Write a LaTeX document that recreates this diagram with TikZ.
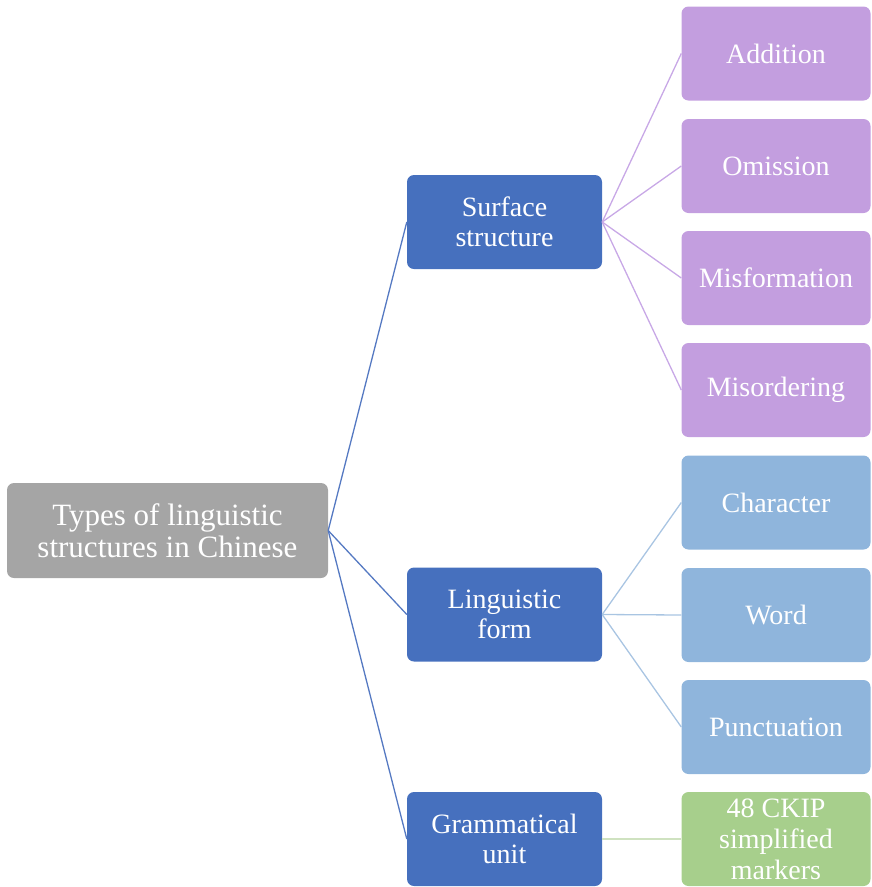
\documentclass[tikz,border=0pt]{standalone}
\usepackage{fontspec}
\setmainfont{Liberation Serif}
\definecolor{rootgray}{HTML}{A5A5A5}
\definecolor{midblue}{HTML}{4670BE}
\definecolor{purp}{HTML}{C39EDF}
\definecolor{lblue}{HTML}{8FB5DC}
\definecolor{lgreen}{HTML}{A7CF8C}
\definecolor{linepurp}{HTML}{C8A8E6}
\definecolor{lineblue}{HTML}{A9C5E2}
\definecolor{linegreen}{HTML}{CFE2C0}
\definecolor{lineroot}{HTML}{5579C2}
\begin{document}
\begin{tikzpicture}[x=1pt,y=-1pt,
  box/.style={rectangle, rounded corners=7pt, inner sep=0pt, text=white, align=center},
  rootbox/.style={box, fill=rootgray, minimum width=321pt, minimum height=95pt, font=\fontsize{31}{32}\selectfont},
  midbox/.style={box, fill=midblue, minimum width=195pt, minimum height=94pt, font=\fontsize{28}{30}\selectfont},
  leafbox/.style={box, minimum width=189pt, minimum height=94pt, font=\fontsize{28}{30}\selectfont},
  conn/.style={line width=1.3pt}
]
\useasboundingbox (0,0) rectangle (871,887);
\node[rootbox] (root) at (167.5,530.5) {Types of linguistic\\structures in Chinese};
\node[midbox] (surf) at (504.5,222) {Surface\\structure};
\node[midbox] (form) at (504.5,614.5) {Linguistic\\form};
\node[midbox] (gram) at (504.5,839) {Grammatical\\unit};
\node[leafbox, fill=purp] (add) at (776,53.5) {Addition};
\node[leafbox, fill=purp] (omi) at (776,166) {Omission};
\node[leafbox, fill=purp] (misf) at (776,278) {Misformation};
\node[leafbox, fill=purp] (miso) at (776,390) {Misordering};
\node[leafbox, fill=lblue] (char) at (776,502.5) {Character};
\node[leafbox, fill=lblue] (word) at (776,615) {Word};
\node[leafbox, fill=lblue] (punc) at (776,727) {Punctuation};
\node[leafbox, fill=lgreen, font=\fontsize{28}{31}\selectfont] (ckip) at (776,839) {48 CKIP\\simplified\\markers};
\foreach \m in {surf,form,gram} \draw[conn, lineroot] (root.east) -- (\m.west);
\foreach \l in {add,omi,misf,miso} \draw[conn, linepurp] (surf.east) -- (\l.west);
\foreach \l in {char,word,punc} \draw[conn, lineblue] (form.east) -- (\l.west);
\draw[conn, linegreen] (gram.east) -- (ckip.west);
\end{tikzpicture}
\end{document}
